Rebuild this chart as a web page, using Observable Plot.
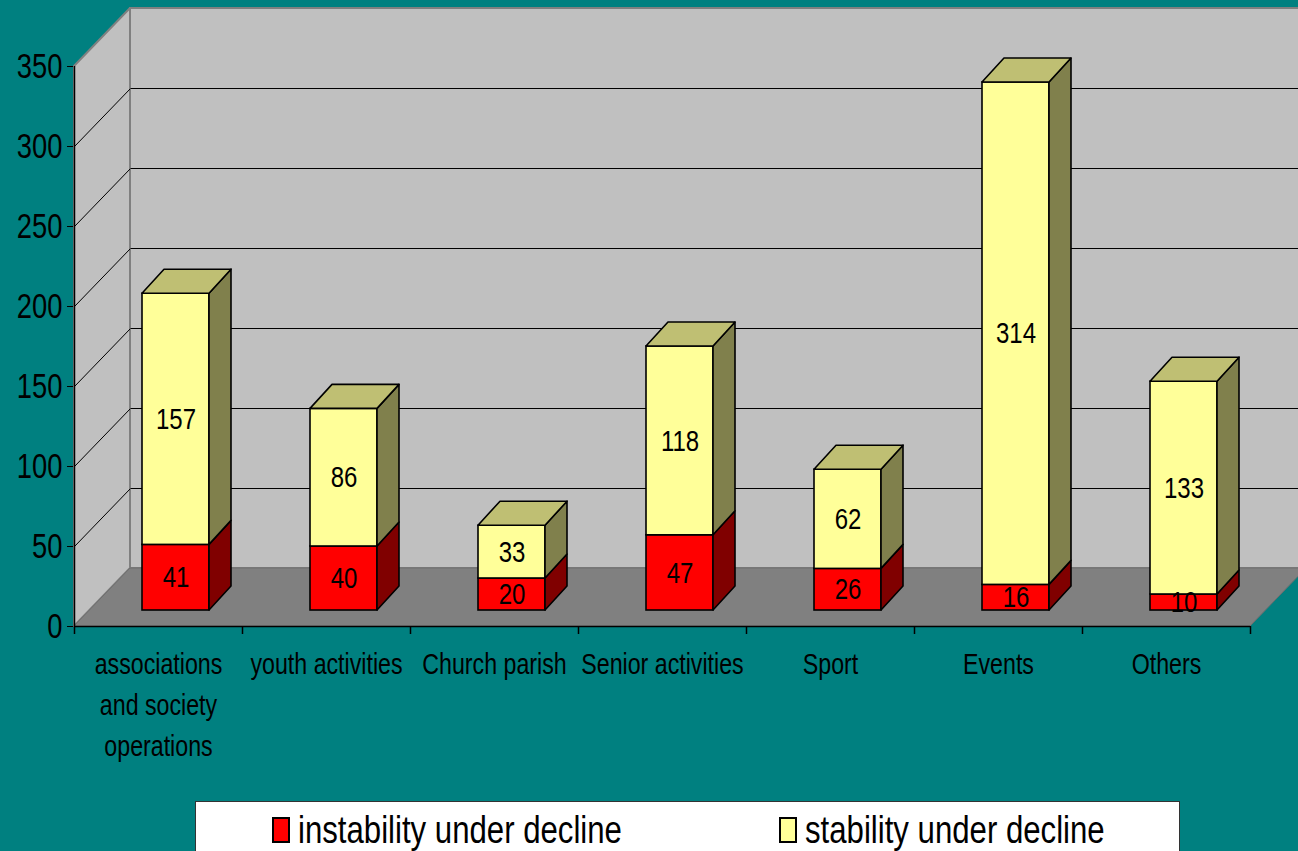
<!DOCTYPE html>
<html><head><meta charset="utf-8">
<script src="https://cdn.jsdelivr.net/npm/d3@7"></script>
<script src="https://cdn.jsdelivr.net/npm/@observablehq/plot@0.6"></script>
<style>
html,body{margin:0;padding:0;background:#008080;}
body{width:1298px;height:851px;overflow:hidden;position:relative;font-family:"Liberation Sans",Arial,sans-serif;}
#chart svg{display:block;background:transparent;}
#legend{position:absolute;left:195px;top:801px;width:985px;height:70px;background:#fff;border:1px solid #333;box-sizing:border-box;font-size:38px;color:#000;}
#legend .item{position:absolute;top:9px;display:flex;align-items:center;white-space:nowrap;}
#legend .sw{width:18px;height:26px;border:2px solid #000;box-sizing:border-box;margin-right:8px;}
#legend .tx{display:inline-block;transform:scaleX(0.82);transform-origin:left center;line-height:1;}
</style></head><body>
<div id="chart"></div>
<div id="legend"></div>
<script>
// ---- data ----
const categories = ["associations\nand society\noperations", "youth activities", "Church parish", "Senior activities", "Sport", "Events", "Others"];
const instability = [41, 40, 20, 47, 26, 16, 10];
const stability = [157, 86, 33, 118, 62, 314, 133];
const yTicks = [0, 50, 100, 150, 200, 250, 300, 350];
const seriesNames = ["instability under decline", "stability under decline"];

// ---- layout ----
const W = 1298, H = 800, mL = 74, mR = 48, mT = 66, mB = 174;
const FONT = '"Liberation Sans",Arial,sans-serif';
const uX = 7 / (W - mL - mR);      // x units per pixel
const uY = 350 / (H - mT - mB);    // y units per pixel
const WX = 56 * uX, WY = 58 * uY;  // wall depth
const BX0 = 17.5 * uX, BY0 = 16 * uY; // bar front plane offset
const BW = 67 * uX;                // bar width
const BX = 22 * uX, BY = 24 * uY;  // bar depth
const colors = [
  {front: "#FF0000", side: "#800000", top: "#BF0000"},
  {front: "#FFFF99", side: "#80804C", top: "#BFBF73"}
];

const segs = [];
categories.forEach((c, i) => {
  const xl = i + 0.5 - BW / 2 + BX0, xr = xl + BW;
  const vals = [instability[i], stability[i]];
  let v0 = BY0;
  vals.forEach((v, s) => {
    segs.push({id: i + "-" + s, i, s, xl, xr, v0, v1: v0 + v, value: v, ...colors[s], last: s === vals.length - 1});
    v0 += v;
  });
});
const sideRows = segs.flatMap(d => [
  {id: d.id, x: d.xr, y1: d.v0, y2: d.v1, fill: d.side},
  {id: d.id, x: d.xr + BX, y1: d.v0 + BY, y2: d.v1 + BY, fill: d.side}
]);
const topRows = segs.filter(d => d.last).flatMap(d => [
  {id: d.id, y: d.v1, x1: d.xl, x2: d.xr, fill: d.top},
  {id: d.id, y: d.v1 + BY, x1: d.xl + BX, x2: d.xr + BX, fill: d.top}
]);
const gridVals = yTicks.filter(v => v > 0 && v < 350);

const plot = Plot.plot({
  width: W, height: H,
  marginLeft: mL, marginRight: mR, marginTop: mT, marginBottom: mB,
  style: {background: "transparent", fontFamily: FONT, fontSize: "36px", color: "#000", overflow: "visible"},
  x: {domain: [0, 7], axis: null},
  y: {domain: [0, 350], ticks: yTicks, tickSize: 7, tickPadding: 5, label: null, tickFormat: d => d},
  color: {type: "identity"},
  marks: [
    // back wall
    Plot.rect([0], {x1: WX, x2: 7 + WX + 1, y1: WY, y2: 350 + WY, fill: "#C0C0C0", stroke: "#808080", strokeWidth: 2}),
    Plot.ruleY(gridVals, {y: d => d + WY, x1: WX, x2: 7 + WX + 1, stroke: "#000", strokeWidth: 1}),
    // left wall
    Plot.areaY([{x: 0, y1: 0, y2: 350}, {x: WX, y1: WY, y2: 350 + WY}], {x: "x", y1: "y1", y2: "y2", fill: "#C0C0C0", stroke: "#808080", strokeWidth: 2}),
    Plot.link(gridVals, {x1: 0, y1: d => d, x2: WX, y2: d => d + WY, stroke: "#000", strokeWidth: 1}),
    // floor
    Plot.areaX([{y: 0, x1: 0, x2: 7}, {y: WY, x1: WX, x2: 7 + WX}], {y: "y", x1: "x1", x2: "x2", fill: "#808080", stroke: "#6e6e6e", strokeWidth: 1}),
    // bars
    Plot.rect(segs, {x1: "xl", x2: "xr", y1: "v0", y2: "v1", fill: "front", stroke: "#000", strokeWidth: 1.6}),
    Plot.areaY(sideRows, {x: "x", y1: "y1", y2: "y2", z: "id", fill: "fill", stroke: "#000", strokeWidth: 1.6}),
    Plot.areaX(topRows, {y: "y", x1: "x1", x2: "x2", z: "id", fill: "fill", stroke: "#000", strokeWidth: 1.6}),
    Plot.text(segs, {x: d => (d.xl + d.xr) / 2, y: d => (d.v0 + d.v1) / 2, text: "value", fontSize: 30, fill: "#000", fontFamily: FONT}),
    // axes lines
    Plot.ruleX([0], {y1: 0, y2: 350, stroke: "#000", strokeWidth: 1.5}),
    Plot.ruleY([0], {x1: 0, x2: 7, stroke: "#000", strokeWidth: 1.5}),
    Plot.ruleX(d3.range(8), {x: d => d, y1: 0, y2: -8 * uY, stroke: "#000", strokeWidth: 1.5}),
    // category labels
    Plot.text(categories, {x: (d, i) => i + 0.5, y: 0, text: d => d, dy: 19, lineAnchor: "top", lineHeight: 1.4, fontSize: 29, fill: "#000", fontFamily: FONT})
  ]
});
document.getElementById("chart").appendChild(plot);

// emulate a narrow (condensed) face by compressing text horizontally around its anchor
const squeeze = {36: 0.76, 29: 0.8, 30: 0.8};
plot.querySelectorAll("text").forEach(t => {
  const fs = Math.round(parseFloat(getComputedStyle(t).fontSize));
  const s = squeeze[fs] || 0.8;
  const x = parseFloat(t.getAttribute("x") || 0);
  const tr = t.getAttribute("transform") || "";
  t.setAttribute("transform", `${tr} translate(${x},0) scale(${s},1) translate(${-x},0)`);
});

// legend
const legend = document.getElementById("legend");
const pos = [[76, 0], [583, 1]];
seriesNames.forEach((name, k) => {
  const it = document.createElement("div");
  it.className = "item";
  it.style.left = pos[k][0] + "px";
  const sw = document.createElement("div");
  sw.className = "sw";
  sw.style.background = colors[k].front;
  const tx = document.createElement("span");
  tx.className = "tx";
  tx.textContent = name;
  it.appendChild(sw); it.appendChild(tx);
  legend.appendChild(it);
});
</script>
</body></html>
